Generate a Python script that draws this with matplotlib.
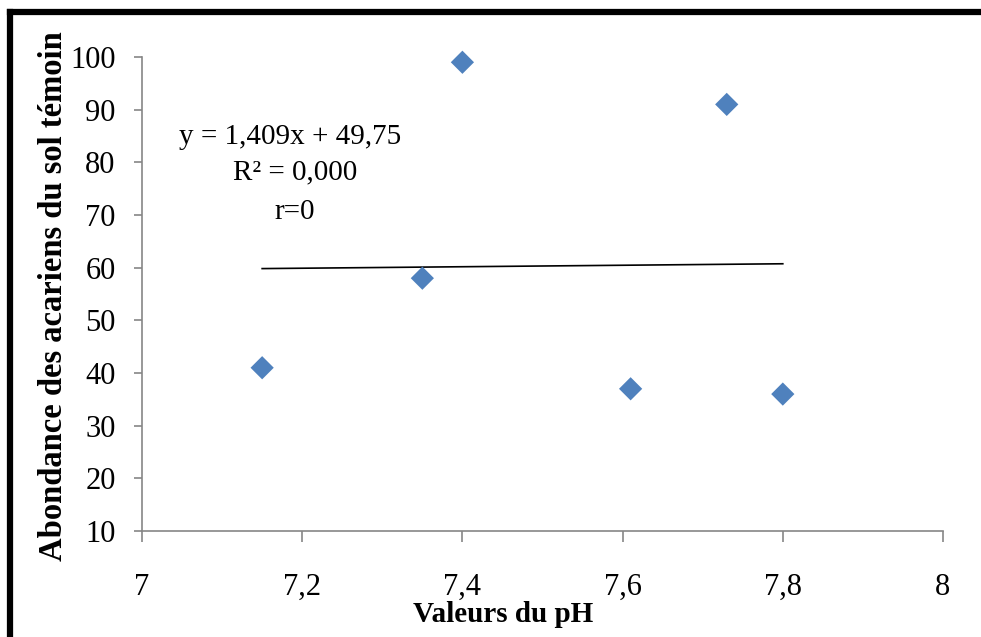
import matplotlib
matplotlib.use("Agg")
import matplotlib.pyplot as plt
from matplotlib.lines import Line2D
import numpy as np

plt.rcParams['font.family'] = ['Liberation Serif', 'DejaVu Serif']

# pH values and mite abundance in the control soil
ph_values = [7.15, 7.35, 7.40, 7.61, 7.73, 7.80]
abundance = [41, 58, 99, 37, 91, 36]

# linear trend reported on the chart
slope = 1.409
intercept = 49.75

x_ticks = [7.0, 7.2, 7.4, 7.6, 7.8, 8.0]
x_tick_labels = ["7", "7,2", "7,4", "7,6", "7,8", "8"]
y_ticks = [10, 20, 30, 40, 50, 60, 70, 80, 90, 100]

W, H = 981, 637
fig = plt.figure(figsize=(W / 100, H / 100), dpi=100)
ax = fig.add_axes([142 / W, 1 - 531 / H, (943 - 142) / W, (531 - 57) / H])

ax.scatter(ph_values, abundance, marker='D', s=140, color='#4F81BD',
           edgecolors='none', zorder=3, clip_on=False)

xt = np.array([min(ph_values), max(ph_values)])
ax.plot(xt, slope * xt + intercept, color='black', linewidth=1.2, zorder=2)

ax.set_xlim(7.0, 8.0)
ax.set_ylim(10, 100)
ax.set_xticks(x_ticks)
ax.set_xticklabels(x_tick_labels)
ax.set_yticks(y_ticks)

axis_grey = '#868686'
for side in ('top', 'right'):
    ax.spines[side].set_visible(False)
for side in ('left', 'bottom'):
    ax.spines[side].set_color(axis_grey)
    ax.spines[side].set_linewidth(1.2)

ax.tick_params(axis='x', direction='out', length=8, width=1.2, color=axis_grey,
               pad=22, labelsize=22)
ax.tick_params(axis='y', direction='out', length=6, width=1.2, color=axis_grey,
               pad=13, labelsize=22)

# regression summary
ax_text = dict(fontsize=21, ha='center', va='center')
fig.text(290 / W, 1 - 137 / H, "y = 1,409x + 49,75", **ax_text)
fig.text(295 / W, 1 - 172 / H, "R² = 0,000", **ax_text)
fig.text(295 / W, 1 - 212 / H, "r=0", **ax_text)

# axis titles
fig.text(503 / W, 1 - 614 / H, "Valeurs du pH", fontsize=21, fontweight='bold',
         ha='center', va='center')
fig.text(54 / W, 1 - 296 / H, "Abondance des acariens du sol témoin", fontsize=23.5,
         fontweight='bold', ha='center', va='center', rotation=90)

# heavy frame along the top and left edges
fig.add_artist(Line2D([10 / W, 1.0], [1 - 12 / H, 1 - 12 / H],
                      transform=fig.transFigure, color='black', linewidth=4.5,
                      solid_capstyle='projecting'))
fig.add_artist(Line2D([10 / W, 10 / W], [0.0, 1 - 12 / H],
                      transform=fig.transFigure, color='black', linewidth=4.5,
                      solid_capstyle='projecting'))

fig.savefig("out.png", dpi=100)
